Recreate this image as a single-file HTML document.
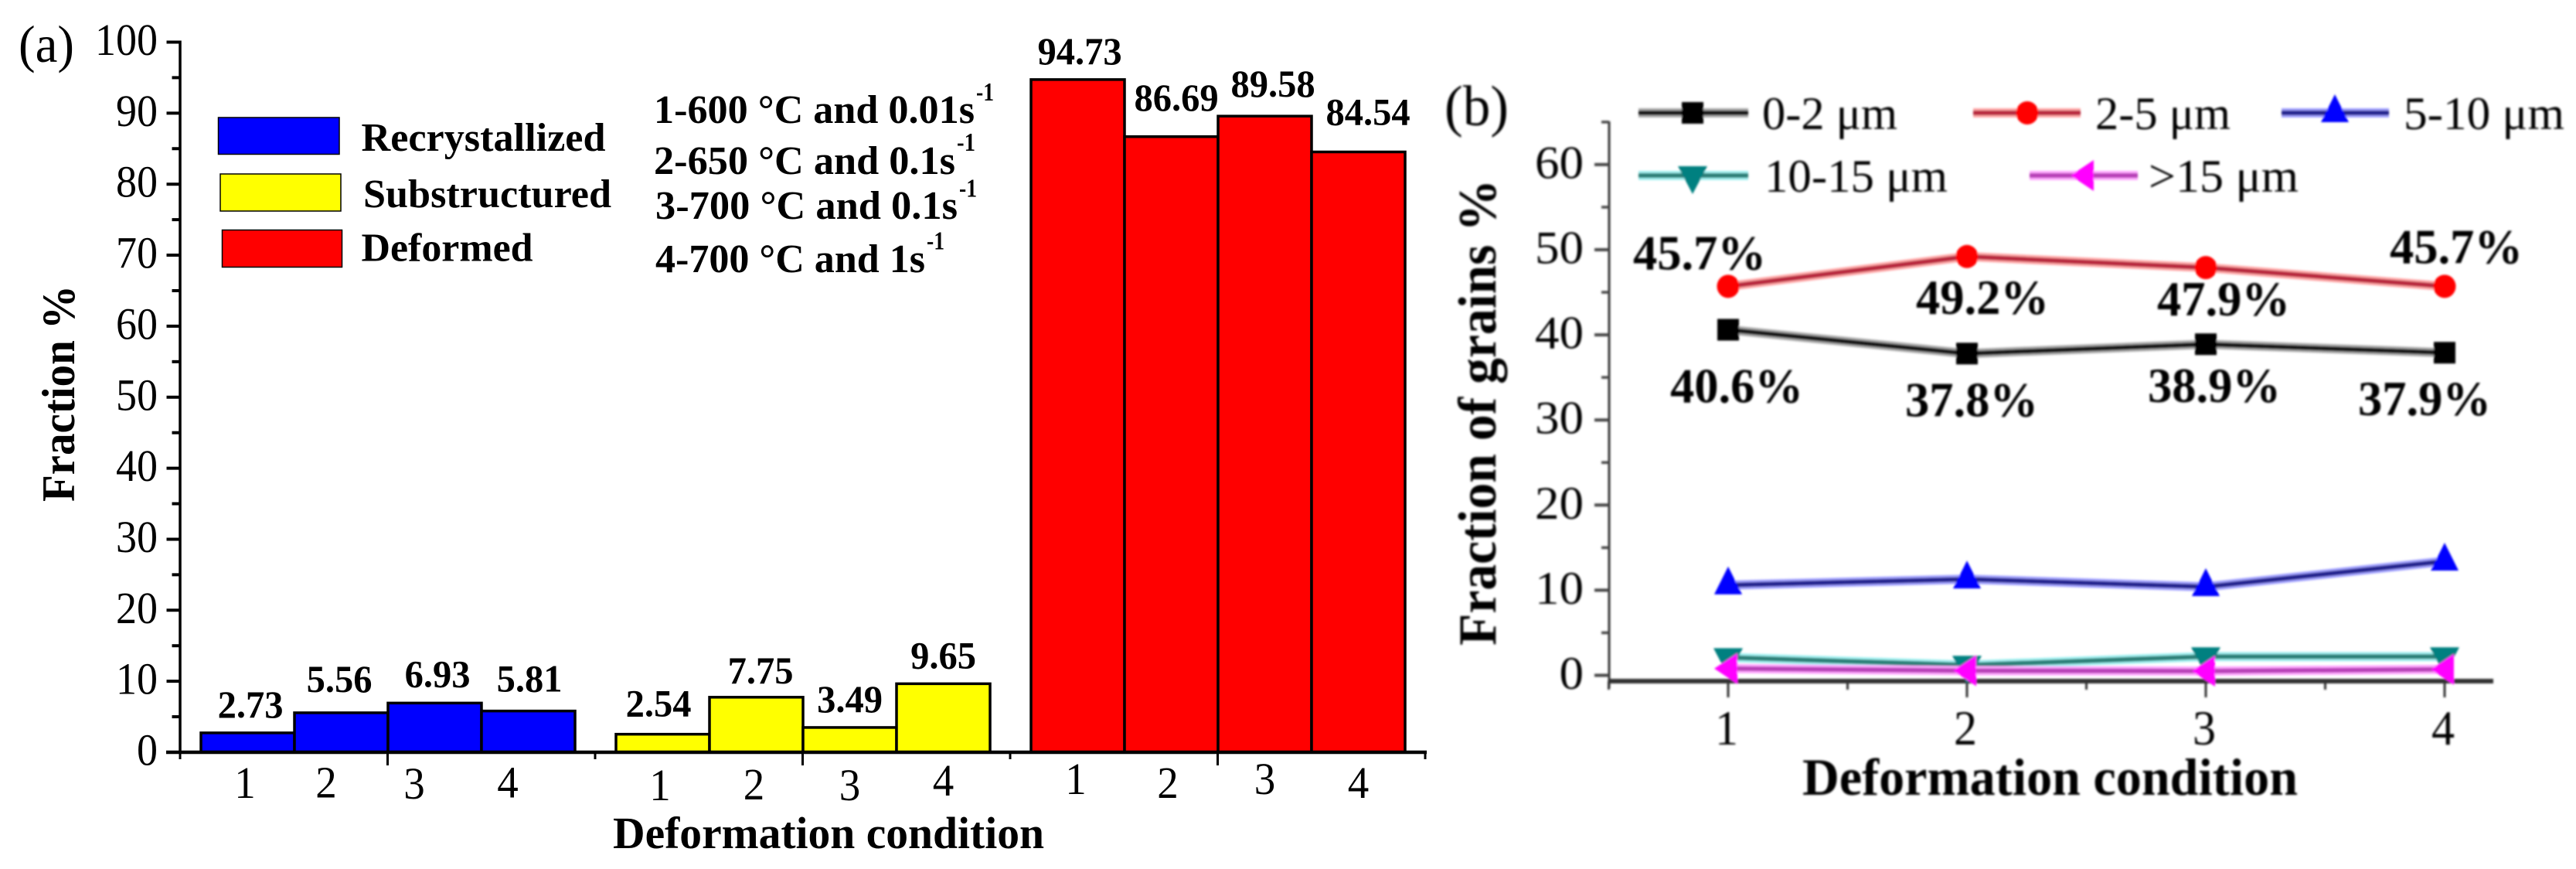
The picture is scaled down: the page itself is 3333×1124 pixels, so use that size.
<!DOCTYPE html>
<html lang="en">
<head>
<meta charset="utf-8">
<title>Fraction by deformation condition</title>
<style>
html,body{margin:0;padding:0;background:#fff;}
svg{display:block;}
text{font-family:"Liberation Serif","Times New Roman",serif;fill:#000;}
.b{font-weight:bold;}
</style>
</head>
<body>
<svg id="figure" xmlns="http://www.w3.org/2000/svg" width="3333" height="1124" viewBox="0 0 3333 1124">
  <defs>
    <filter id="soft" x="-5%" y="-5%" width="110%" height="110%"><feGaussianBlur stdDeviation="1.3"/></filter>
  </defs>
  <rect width="3333" height="1124" fill="#fff"/>

  <g id="panelA">
    <text x="24" y="80" font-size="68" textLength="72" lengthAdjust="spacingAndGlyphs">(a)</text>
    <text class="b" transform="translate(96,649) rotate(-90)" font-size="60" textLength="280" lengthAdjust="spacingAndGlyphs">Fraction %</text>
    <text class="b" x="793" y="1097" font-size="58" textLength="558" lengthAdjust="spacingAndGlyphs">Deformation condition</text>

    <g>
      <rect x="282.5" y="152" width="156.5" height="47.5" fill="#00f" stroke="#000" stroke-width="1.5"/>
      <text class="b" x="467.5" y="195" font-size="52" textLength="316" lengthAdjust="spacingAndGlyphs">Recrystallized</text>
      <rect x="285" y="225" width="156" height="48" fill="#ff0" stroke="#000" stroke-width="1.5"/>
      <text class="b" x="470" y="268" font-size="52" textLength="321" lengthAdjust="spacingAndGlyphs">Substructured</text>
      <rect x="287.5" y="297.5" width="155" height="48" fill="#f00" stroke="#000" stroke-width="1.5"/>
      <text class="b" x="467.5" y="337.5" font-size="52" textLength="222" lengthAdjust="spacingAndGlyphs">Deformed</text>
    </g>

    <g>
      <text class="b" x="846" y="159" font-size="52" textLength="415" lengthAdjust="spacingAndGlyphs">1-600 °C and 0.01s</text>
      <text class="b" x="1263" y="130" font-size="34" textLength="23" lengthAdjust="spacingAndGlyphs">-1</text>
      <text class="b" x="846" y="225" font-size="52" textLength="390" lengthAdjust="spacingAndGlyphs">2-650 °C and 0.1s</text>
      <text class="b" x="1238" y="195" font-size="34" textLength="24" lengthAdjust="spacingAndGlyphs">-1</text>
      <text class="b" x="848" y="283" font-size="52" textLength="391" lengthAdjust="spacingAndGlyphs">3-700 °C and 0.1s</text>
      <text class="b" x="1241" y="254.5" font-size="34" textLength="23" lengthAdjust="spacingAndGlyphs">-1</text>
      <text class="b" x="848" y="352" font-size="52" textLength="349" lengthAdjust="spacingAndGlyphs">4-700 °C and 1s</text>
      <text class="b" x="1199" y="322.5" font-size="34" textLength="23" lengthAdjust="spacingAndGlyphs">-1</text>
    </g>
  </g>

  <g id="panelB" filter="url(#soft)">
    <text x="1869" y="162" font-size="74" fill="#222" textLength="83" lengthAdjust="spacingAndGlyphs">(b)</text>
    <text class="b" transform="translate(1935,835) rotate(-90)" font-size="70" textLength="603" lengthAdjust="spacingAndGlyphs">Fraction of grains %</text>
    <text class="b" x="2332" y="1028" font-size="68" textLength="641" lengthAdjust="spacingAndGlyphs">Deformation condition</text>
    <text x="2280" y="167" font-size="60" fill="#222" textLength="175" lengthAdjust="spacingAndGlyphs">0-2 μm</text>
    <text x="2711" y="167" font-size="60" fill="#222" textLength="175" lengthAdjust="spacingAndGlyphs">2-5 μm</text>
    <text x="3110" y="167" font-size="60" fill="#222" textLength="208" lengthAdjust="spacingAndGlyphs">5-10 μm</text>
    <text x="2283" y="248" font-size="60" fill="#222" textLength="237" lengthAdjust="spacingAndGlyphs">10-15 μm</text>
    <text x="2780" y="248" font-size="60" fill="#222" textLength="194" lengthAdjust="spacingAndGlyphs">&gt;15 μm</text>
  </g>
</svg>

<script>
// ---- Panel (a) data ----
const barConditions = ['1', '2', '3', '4'];
const recrystallizedValues = [2.73, 5.56, 6.93, 5.81];
const substructuredValues = [2.54, 7.75, 3.49, 9.65];
const deformedValues = [94.73, 86.69, 89.58, 84.54];
const yMajorTicksA = [0, 10, 20, 30, 40, 50, 60, 70, 80, 90, 100];
const yMinorTicksA = [5, 15, 25, 35, 45, 55, 65, 75, 85, 95];

// ---- Panel (b) data ----
const lineConditions = [1, 2, 3, 4];
const size0to2 = [40.6, 37.8, 38.9, 37.9];
const size2to5 = [45.7, 49.2, 47.9, 45.7];
const size5to10 = [10.6, 11.3, 10.4, 13.4];
const size10to15 = [2.1, 1.2, 2.2, 2.2];
const sizeOver15 = [0.8, 0.55, 0.5, 0.7];
const yMajorTicksB = [0, 10, 20, 30, 40, 50, 60];
const yMinorTicksB = [5, 15, 25, 35, 45, 55, 65];
const xMinorTicksB = [0.5, 1.5, 2.5, 3.5];

// ---- Axis functions ----
function yA(v) { return 973 - v * 9.185; }
function yB(v) { return 873.5 - v * 11.01; }
function xB(c) { return 2236 + (c - 1) * 309; }
const barWidth = 121;
function barLeft(group, i) { return 260 + 537 * group + barWidth * i; }

// ---- Hand placement of labels relative to their anchors (layout only) ----
const barLabelNudgeX = [[3.5, -2.5, 3.5, 1.5], [-5.5, 5.5, 0, 0], [2.5, 6.5, 10.5, 12.5]];
const barLabelGap = [[20, 27, 21, 25], [23, 18, 20, 20], [20, 34, 25, 35]];
const condLabelNudgeX = [[-3.5, -19.5, -26.5, -26.5], [-3.5, -3, 0, 0], [-2.5, -4.5, 0, 0]];
const condLabelBaseline = [[1032, 1031.5, 1033, 1031.5], [1035, 1034, 1035, 1029], [1027, 1032, 1027, 1032]];
const redLabelOffset = [[-37, -22], [20, 74], [23, 62], [15, -30]];
const blackLabelOffset = [[11, 94], [6, 81], [11, 75], [-26, 81]];

const NS = 'http://www.w3.org/2000/svg';
const panelA = document.getElementById('panelA');
const panelB = document.getElementById('panelB');

function make(tag, attrs, parent, content) {
  const node = document.createElementNS(NS, tag);
  for (const k in attrs) node.setAttribute(k, attrs[k]);
  if (content !== undefined) node.textContent = content;
  parent.appendChild(node);
  return node;
}
// Condense a text element horizontally to a natural advance at a narrower size.
function condense(node, length) {
  node.setAttribute('textLength', length);
  node.setAttribute('lengthAdjust', 'spacingAndGlyphs');
}
function markerNode(shape, cx, cy, color, parent) {
  if (shape === 'square') {
    return make('rect', {x: cx - 14, y: cy - 14, width: 28, height: 28, fill: color}, parent);
  }
  if (shape === 'circle') {
    return make('ellipse', {cx: cx, cy: cy, rx: 14.5, ry: 15, fill: color}, parent);
  }
  let pts;
  if (shape === 'up') pts = [[cx, cy - 24], [cx + 18, cy + 12], [cx - 18, cy + 12]];
  if (shape === 'down') pts = [[cx - 19, cy - 12], [cx + 19, cy - 12], [cx, cy + 24]];
  if (shape === 'left') pts = [[cx - 18, cy], [cx + 12, cy - 20], [cx + 12, cy + 20]];
  return make('polygon', {points: pts.map(function (p) { return p.join(','); }).join(' '), fill: color}, parent);
}

// ---- Panel (a): bars ----
const barSeries = [
  {values: recrystallizedValues, color: '#0000ff'},
  {values: substructuredValues, color: '#ffff00'},
  {values: deformedValues, color: '#ff0000'}
];
barSeries.forEach(function (series, g) {
  series.values.forEach(function (v, i) {
    const bar = make('rect', {x: barLeft(g, i), y: yA(v), width: barWidth, height: yA(0) - yA(v), fill: series.color, stroke: '#000', 'stroke-width': 3.5}, panelA);
    
    

    const printed = v.toFixed(2);
    const value = make('text', {class: 'b', x: barLeft(g, i) + barWidth / 2 + barLabelNudgeX[g][i], y: yA(v) - barLabelGap[g][i], 'font-size': 50, 'text-anchor': 'middle'}, panelA, printed);
    condense(value, 48.5 * ((printed.length - 1) * 0.5 + 0.25));
    
    

    const cond = make('text', {x: barLeft(g, i) + barWidth / 2 + condLabelNudgeX[g][i], y: condLabelBaseline[g][i], 'font-size': 58, 'text-anchor': 'middle'}, panelA, barConditions[i]);
    condense(cond, 27.5);
    
    
  });
});

// ---- Panel (a): axes ----
const yAxisA = make('line', {x1: 233, y1: yA(100) - 2, x2: 233, y2: 975, stroke: '#000', 'stroke-width': 3.5}, panelA);


const xAxisA = make('line', {x1: 215, y1: yA(0), x2: 1846, y2: yA(0), stroke: '#000', 'stroke-width': 4.5}, panelA);



yMajorTicksA.forEach(function (v) {
  const tick = make('line', {x1: 215.5, y1: yA(v), x2: 233, y2: yA(v), stroke: '#000', 'stroke-width': 4}, panelA);
  
  
  const label = make('text', {x: 204, y: yA(v) + 16.5, 'font-size': 58, 'text-anchor': 'end'}, panelA, String(v));
  condense(label, String(v).length * 27);
  
  
});
yMinorTicksA.forEach(function (v) {
  const tick = make('line', {x1: 222.5, y1: yA(v), x2: 233, y2: yA(v), stroke: '#000', 'stroke-width': 4}, panelA);
  
  
});
for (let k = 0; k <= 6; k++) {
  const tick = make('line', {x1: 233 + k * 268.5, y1: yA(0), x2: 233 + k * 268.5, y2: k % 2 ? 990 : 982, stroke: '#000', 'stroke-width': 3}, panelA);
  
  
}

// ---- Panel (b): axes ----
const yAxisB = make('line', {x1: 2082, y1: 157, x2: 2082, y2: 890, stroke: '#333', 'stroke-width': 3}, panelB);


const xAxisB = make('line', {x1: 2082, y1: 881, x2: 3226, y2: 881, stroke: '#333', 'stroke-width': 6}, panelB);



yMajorTicksB.forEach(function (v) {
  const tick = make('line', {x1: 2063, y1: yB(v), x2: 2082, y2: yB(v), stroke: '#444', 'stroke-width': 4}, panelB);
  
  
  const label = make('text', {x: 2049, y: yB(v) + 17.5, 'font-size': 60, 'text-anchor': 'end', fill: '#222'}, panelB, String(v));
  condense(label, String(v).length * 31.5);
  
  
});
yMinorTicksB.forEach(function (v) {
  const tick = make('line', {x1: 2072, y1: yB(v), x2: 2082, y2: yB(v), stroke: '#444', 'stroke-width': 3.5}, panelB);
  
  
});
lineConditions.forEach(function (c) {
  const tick = make('line', {x1: xB(c), y1: 881, x2: xB(c), y2: 902, stroke: '#333', 'stroke-width': 3}, panelB);
  
  
  const label = make('text', {x: xB(c) - 2, y: 963, 'font-size': 64, 'text-anchor': 'middle', fill: '#222'}, panelB, String(c));
  condense(label, 30);
  
  
});
xMinorTicksB.forEach(function (c) {
  const tick = make('line', {x1: xB(c), y1: 881, x2: xB(c), y2: 892, stroke: '#333', 'stroke-width': 3}, panelB);
  
  
});

// ---- Panel (b): series ----
const lineSeries = [
  {values: size0to2, shape: 'square', marker: '#000000', line: '#141414', halo: '#aaaaaa'},
  {values: size2to5, shape: 'circle', marker: '#ff0000', line: '#b8283c', halo: '#ffa8a8'},
  {values: size5to10, shape: 'up', marker: '#0000ff', line: '#24248e', halo: '#a0a0ff'},
  {values: size10to15, shape: 'down', marker: '#008080', line: '#2a8078', halo: '#a0f0f0'},
  {values: sizeOver15, shape: 'left', marker: '#ff00ff', line: '#b840b8', halo: '#ffa8ff'}
];
lineSeries.forEach(function (s) {
  const pts = s.values.map(function (v, i) { return xB(lineConditions[i]) + ',' + yB(v); }).join(' ');
  const halo = make('polyline', {points: pts, fill: 'none', stroke: s.halo, 'stroke-width': 12}, panelB);
  
  
  const line = make('polyline', {points: pts, fill: 'none', stroke: s.line, 'stroke-width': 6}, panelB);
  
  
  s.values.forEach(function (v, i) {
    const mark = markerNode(s.shape, xB(lineConditions[i]), yB(v), s.marker, panelB);
    
    
  });
});

size2to5.forEach(function (v, i) {
  const label = make('text', {class: 'b', x: xB(lineConditions[i]) + redLabelOffset[i][0], y: yB(v) + redLabelOffset[i][1], 'font-size': 64, 'text-anchor': 'middle'}, panelB, v.toFixed(1) + '%');
  condense(label, 172);
  
  
});
size0to2.forEach(function (v, i) {
  const label = make('text', {class: 'b', x: xB(lineConditions[i]) + blackLabelOffset[i][0], y: yB(v) + blackLabelOffset[i][1], 'font-size': 64, 'text-anchor': 'middle'}, panelB, v.toFixed(1) + '%');
  condense(label, 172);
  
  
});

// ---- Panel (b): legend keys ----
function legendKey(series, x1, x2, y, mx) {
  const halo = make('line', {x1: x1, y1: y, x2: x2, y2: y, stroke: series.halo, 'stroke-width': 12}, panelB);
  const line = make('line', {x1: x1, y1: y, x2: x2, y2: y, stroke: series.line, 'stroke-width': 6}, panelB);
  const mark = markerNode(series.shape, mx, y, series.marker, panelB);
  return [halo, line, mark];
}
[
  legendKey(lineSeries[0], 2120, 2262, 146, 2190),
  legendKey(lineSeries[1], 2553, 2692, 146, 2623),
  legendKey(lineSeries[2], 2952, 3091, 146, 3021),
  legendKey(lineSeries[3], 2120, 2262, 227, 2190),
  legendKey(lineSeries[4], 2626, 2766, 227, 2697)
].forEach(function (parts) {
  parts.forEach(function (el) {
    
    
  });
});
</script>
</body>
</html>
